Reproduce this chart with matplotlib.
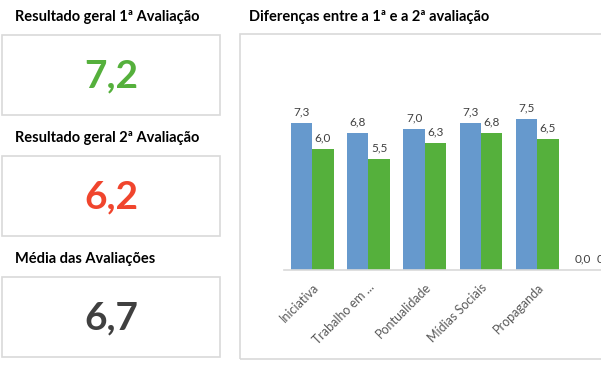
import matplotlib
matplotlib.use("Agg")
import matplotlib.pyplot as plt
from matplotlib.patches import Rectangle

W, H = 601, 365
DPI = 100

# data
categorias = ["Iniciativa", "Trabalho em ...", "Pontualidade", "Mídias Sociais", "Propaganda", ""]
aval1 = [7.3, 6.8, 7.0, 7.3, 7.5, 0.0]
aval2 = [6.0, 5.5, 6.3, 6.8, 6.5, 0.0]

kpi_titulos = ["Resultado geral 1ª Avaliação", "Resultado geral 2ª Avaliação", "Média das Avaliações"]
kpi_valores = ["7,2", "6,2", "6,7"]
kpi_cores = ["#55B03C", "#F0452D", "#404040"]

azul = "#6699CD"
verde = "#55B03C"
borda = "#D9D9D9"

plt.rcParams['font.family'] = ['Lato', 'DejaVu Sans']

fig = plt.figure(figsize=(W / DPI, H / DPI), dpi=DPI)
fig.patch.set_facecolor("white")


def px_rect(x0, y0, x1, y1):
    # pixel box (top-left origin) -> figure rectangle
    r = Rectangle((x0 / W, 1 - y1 / H), (x1 - x0) / W, (y1 - y0) / H,
                  transform=fig.transFigure, fill=False, edgecolor=borda, linewidth=1.2)
    fig.add_artist(r)


def px_text(x, y, s, **kw):
    fig.text(x / W, 1 - y / H, s, **kw)


# left KPI cards
cards = [(17, 35, 115), (138, 156, 236), (259, 277, 357)]
for (ty, y0, y1), tit, val, cor in zip(cards, kpi_titulos, kpi_valores, kpi_cores):
    px_text(15, ty, tit, fontsize=10.5, fontweight="bold", color="black", va="center", ha="left")
    px_rect(2, y0, 220, y1)
    px_text(111, (y0 + y1) / 2 + 1, val, fontsize=28, fontweight="bold", color=cor,
            va="center", ha="center")

# right panel
px_text(249, 17, "Diferenças entre a 1ª e a 2ª avaliação", fontsize=10.5, fontweight="bold",
        color="black", va="center", ha="left")
px_rect(240, 34, 640, 359)

# bar chart (extends past the right edge, like the original)
ax_left, ax_bottom = 284, 270
ax_w = 56.3 * len(categorias)
ax_h = 181
ax = fig.add_axes([ax_left / W, 1 - ax_bottom / H, ax_w / W, ax_h / H])
ax.set_facecolor("none")

x = range(len(categorias))
bw = 0.38
b1 = ax.bar([i - bw / 2 for i in x], aval1, width=bw, color=azul)
b2 = ax.bar([i + bw / 2 for i in x], aval2, width=bw, color=verde)
fmt = lambda vals: [f"{v:.1f}".replace(".", ",") for v in vals]
ax.bar_label(b1, labels=fmt(aval1), padding=4, fontsize=8.5, color="#404040")
ax.bar_label(b2, labels=fmt(aval2), padding=4, fontsize=8.5, color="#404040")

ax.set_xlim(-0.5, len(categorias) - 0.5)
ax.set_ylim(0, 9)
ax.set_xticks(list(x))
ax.set_xticklabels(categorias, rotation=45, ha="right", rotation_mode="anchor",
                   fontsize=9, color="#595959")
ax.tick_params(axis="x", length=0, pad=8)
ax.set_yticks([])
for s in ["top", "right", "left"]:
    ax.spines[s].set_visible(False)
ax.spines["bottom"].set_color(borda)
ax.spines["bottom"].set_linewidth(1.2)

fig.savefig("out.png", dpi=DPI)
